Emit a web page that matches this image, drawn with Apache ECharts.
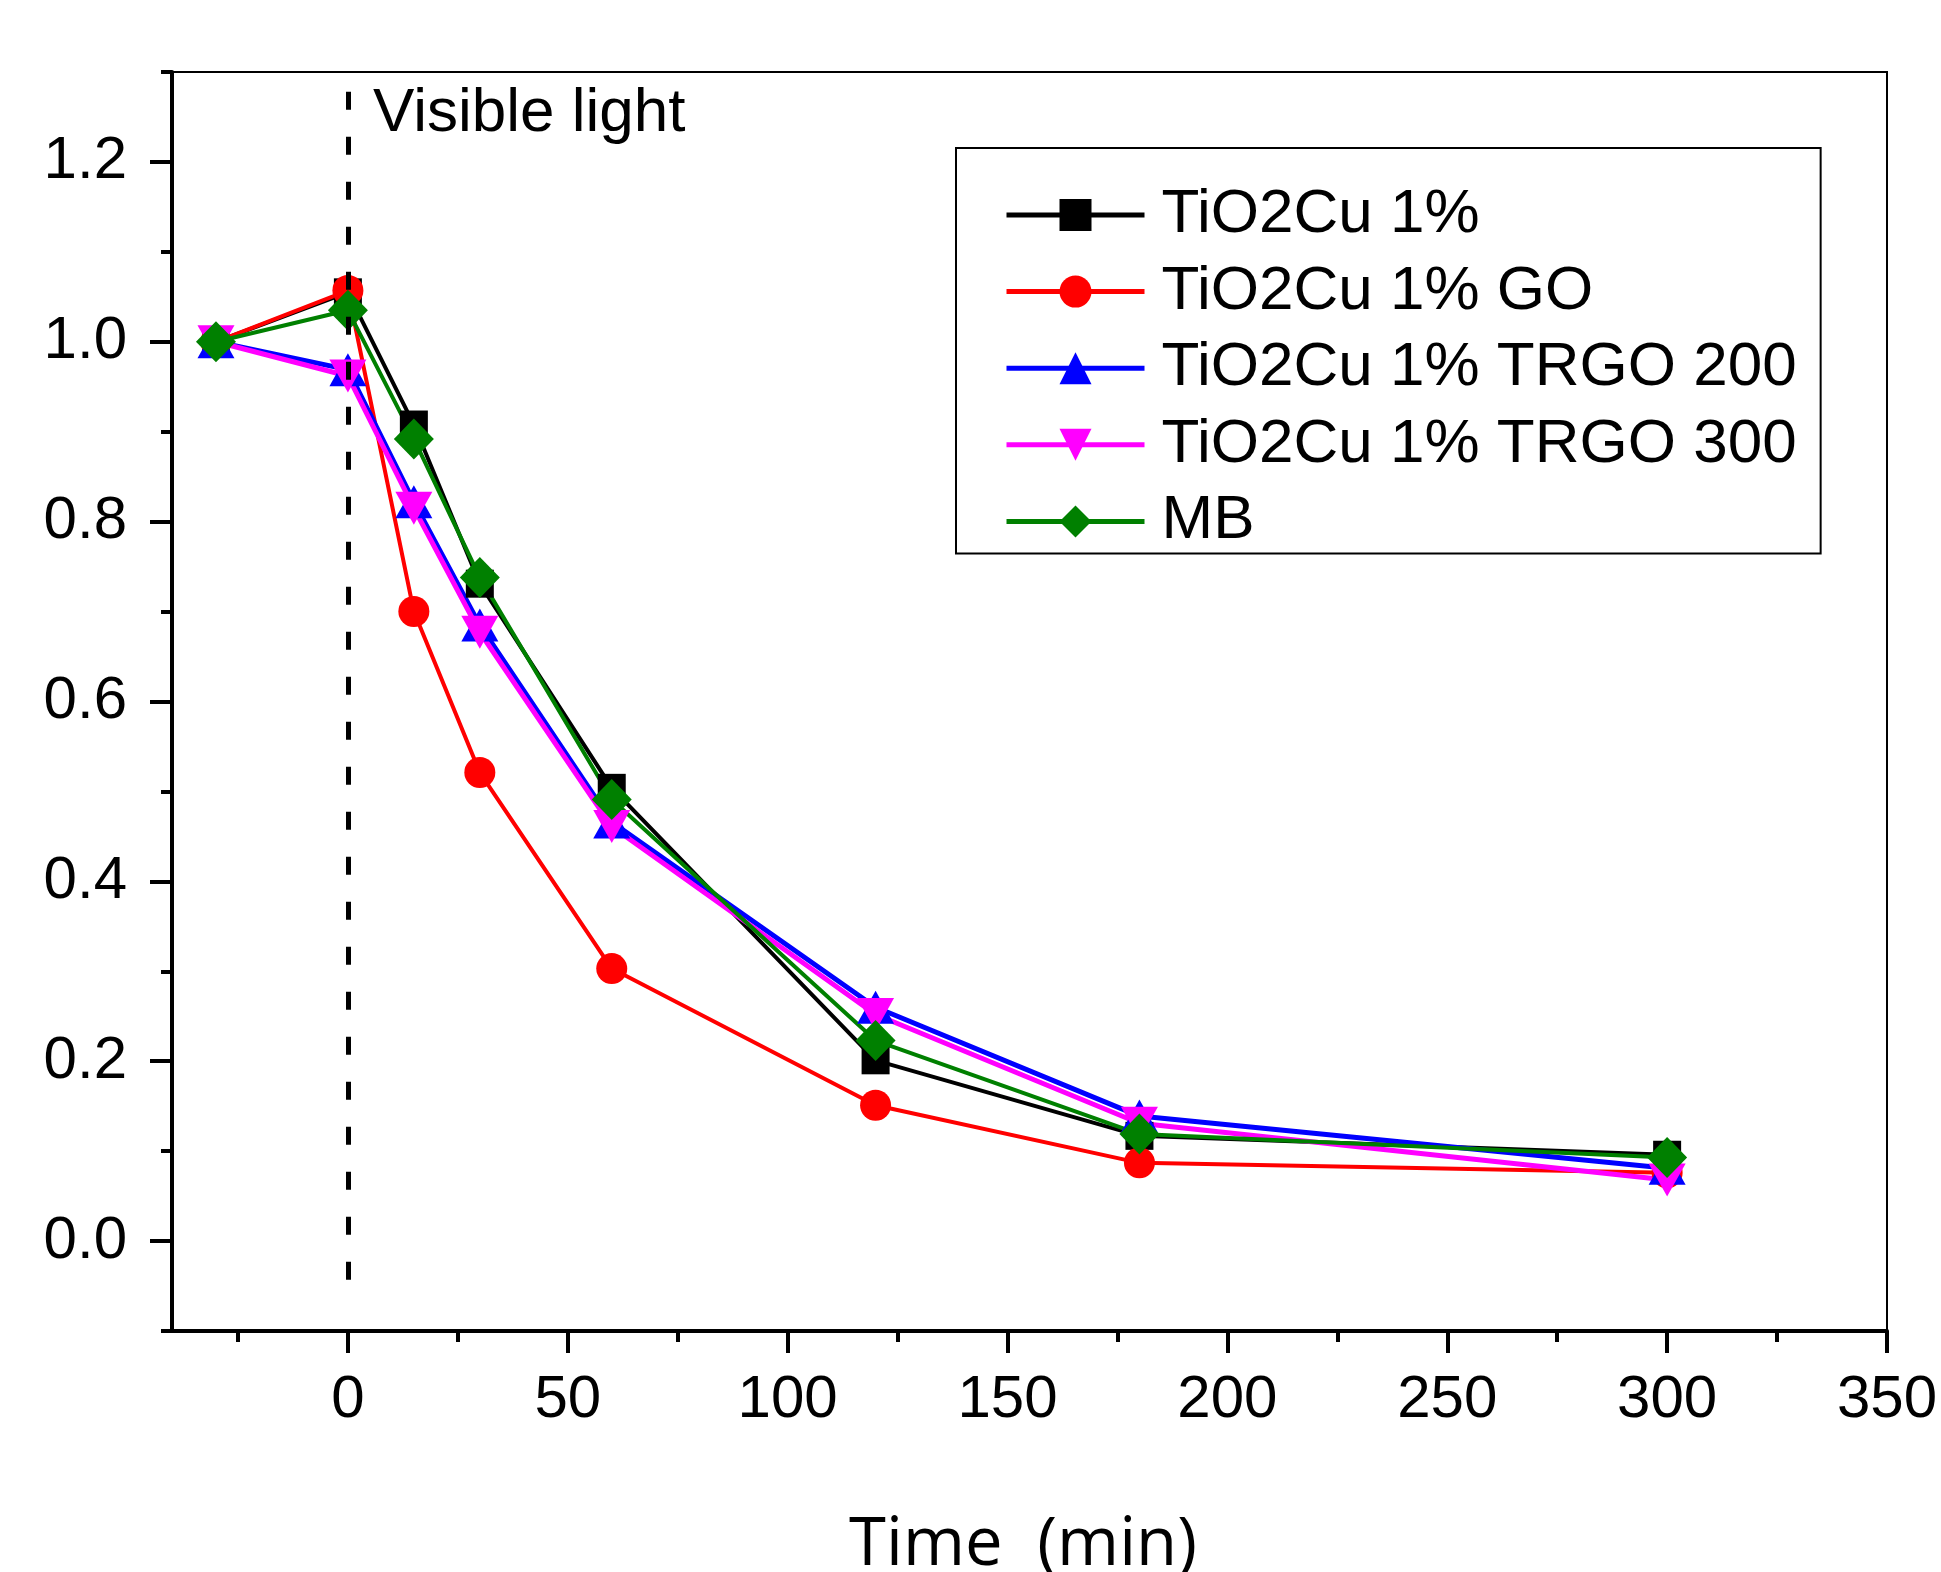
<!DOCTYPE html>
<html>
<head>
<meta charset="utf-8">
<script src="https://cdn.jsdelivr.net/npm/echarts@6/dist/echarts.min.js"></script>
<style>
  html, body { margin: 0; padding: 0; background: #fff; }
  #chart { width: 1941px; height: 1572px; }
</style>
</head>
<body>
<div id="chart"></div>
<script>
// ---- data ----
const timeMin = [-30, 0, 15, 30, 60, 120, 180, 300];
const tio2cu   = [1.0, 1.055, 0.908, 0.731, 0.504, 0.201, 0.117, 0.096];
const tio2cuGO = [1.0, 1.057, 0.700, 0.521, 0.303, 0.151, 0.087, 0.076];
const trgo200  = [1.0, 0.969, 0.822, 0.685, 0.466, 0.260, 0.139, 0.081];
const trgo300  = [1.0, 0.962, 0.815, 0.677, 0.461, 0.252, 0.131, 0.068];
const mb       = [1.0, 1.035, 0.892, 0.738, 0.491, 0.223, 0.119, 0.093];

const seriesNames = ['TiO2Cu 1%', 'TiO2Cu 1% GO', 'TiO2Cu 1% TRGO 200', 'TiO2Cu 1% TRGO 300', 'MB'];
const xMajorTicks = [0, 50, 100, 150, 200, 250, 300, 350];
const xMinorTicks = [-25, 25, 75, 125, 175, 225, 275, 325];
const yMajorTicks = [0, 0.2, 0.4, 0.6, 0.8, 1.0, 1.2];
const yMinorTicks = [-0.1, 0.1, 0.3, 0.5, 0.7, 0.9, 1.1, 1.3];
const markerX = 0;
const markerYRange = [1.278, -0.073];
const annotationText = 'Visible light';
const xTitle = 'Time  (min)';

// ---- chart ----
const chart = echarts.init(document.getElementById('chart'), null, { renderer: 'canvas' });
const F = '"Liberation Sans", Arial, sans-serif';
const pairs = arr => timeMin.map((t, i) => [t, arr[i]]);

function mkSeries(name, data, color, symbol, size, rotate, lw) {
  return {
    name, type: 'line', data: pairs(data),
    xAxisIndex: 0, yAxisIndex: 0,
    symbol, symbolSize: size, symbolRotate: rotate || 0,
    showSymbol: true,
    lineStyle: { color, width: lw },
    itemStyle: { color, borderWidth: 0 },
    emphasis: { disabled: true },
    animation: false
  };
}

const series = [
  mkSeries(seriesNames[0], tio2cu, '#000000', 'rect', 28, 0, 4),
  mkSeries(seriesNames[1], tio2cuGO, '#ff0000', 'circle', 31, 0, 4),
  mkSeries(seriesNames[2], trgo200, '#0000ff', 'triangle', [37, 33], 0, 5),
  mkSeries(seriesNames[3], trgo300, '#ff00ff', 'triangle', [37, 33], 180, 5),
  mkSeries(seriesNames[4], mb, '#008000', 'diamond', [40, 41], 0, 4)
];
series[0].markLine = {
  silent: true, symbol: 'none', animation: false,
  label: { show: false },
  lineStyle: { color: '#000', width: 5, type: [18, 27] },
  data: [[{ coord: [markerX, markerYRange[0]] }, { coord: [markerX, markerYRange[1]] }]]
};

const option = {
  backgroundColor: '#ffffff',
  animation: false,
  grid: {
    left: 172, right: 54, top: 72, bottom: 241,
    outerBoundsMode: 'none', containLabel: false,
    show: true, borderColor: '#000', borderWidth: 2, backgroundColor: 'transparent'
  },
  legend: {
    orient: 'vertical',
    left: 956, top: 148,
    width: 864,
    padding: [36, 24, 1, 48],
    borderColor: '#000', borderWidth: 2,
    itemWidth: 138, itemHeight: 40, itemGap: 14.6,
    data: seriesNames,
    textStyle: { fontFamily: F, fontSize: 62, color: '#000', lineHeight: 61, padding: [0, 0, 0, 12] },
    lineStyle: { width: 5 },
    selectedMode: false
  },
  xAxis: [
    {
      type: 'value', min: -40, max: 350, position: 'bottom',
      axisLine: { show: true, onZero: false, lineStyle: { color: '#000', width: 4 } },
      axisTick: { show: true, inside: false, length: 22, lineStyle: { color: '#000', width: 4 }, customValues: xMajorTicks },
      axisLabel: { show: true, margin: 39, fontFamily: F, fontSize: 60, color: '#000', customValues: xMajorTicks },
      splitLine: { show: false }
    },
    {
      type: 'value', min: -40, max: 350, position: 'bottom',
      axisLine: { show: false, onZero: false },
      axisTick: { show: true, inside: false, length: 11, lineStyle: { color: '#000', width: 4 }, customValues: xMinorTicks },
      axisLabel: { show: false },
      splitLine: { show: false }
    }
  ],
  yAxis: [
    {
      type: 'value', min: -0.1, max: 1.3, position: 'left',
      axisLine: { show: true, onZero: false, lineStyle: { color: '#000', width: 4 } },
      axisTick: { show: true, inside: false, length: 22, lineStyle: { color: '#000', width: 4 }, customValues: yMajorTicks },
      axisLabel: { show: true, margin: 45, fontFamily: F, fontSize: 60, color: '#000', customValues: yMajorTicks,
        formatter: v => Number(v).toFixed(1) },
      splitLine: { show: false }
    },
    {
      type: 'value', min: -0.1, max: 1.3, position: 'left',
      axisLine: { show: false, onZero: false },
      axisTick: { show: true, inside: false, length: 11, lineStyle: { color: '#000', width: 4 }, customValues: yMinorTicks },
      axisLabel: { show: false },
      splitLine: { show: false }
    }
  ],
  series
};
chart.setOption(option);

// annotation text anchored to the data coordinate of the marker line
const p = chart.convertToPixel({ xAxisIndex: 0, yAxisIndex: 0 }, [markerX, markerYRange[0]]);
chart.setOption({
  graphic: [
    {
      type: 'text', x: p[0] + 25, y: 114, silent: true,
      style: { text: annotationText, font: '62px "Liberation Sans", Arial, sans-serif', fill: '#000',
        align: 'left', verticalAlign: 'middle' }
    },
    {
      type: 'text', x: 1023, y: 1546, silent: true,
      style: { text: xTitle, font: '67px "Open Sans", sans-serif', fill: '#000',
        align: 'center', verticalAlign: 'middle' }
    }
  ]
});
</script>
</body>
</html>
